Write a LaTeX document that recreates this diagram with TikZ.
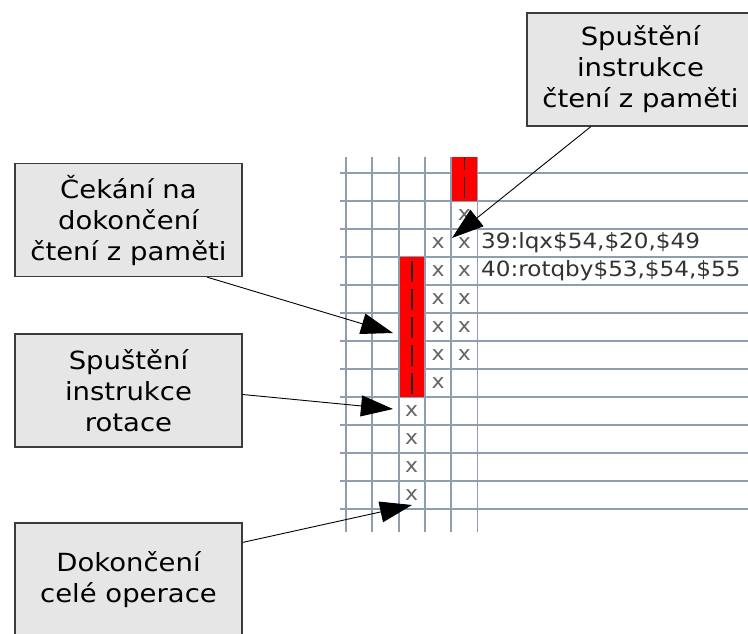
\documentclass[tikz,border=0pt]{standalone}
\usepackage{fontspec}
\setmainfont[FakeStretch=1.1]{DejaVu Sans}
\usepackage{tikz}
\usetikzlibrary{arrows.meta}
\usetikzlibrary{positioning}

\definecolor{gridgray}{RGB}{143,157,175}
\definecolor{notefill}{RGB}{230,230,230}
\definecolor{noteline}{RGB}{60,60,60}

\tikzset{
  notebox/.style={draw=noteline,line width=1.3pt,fill=notefill,
    minimum width=227pt,minimum height=113pt,inner sep=0pt,align=center,
    font=\fontsize{25}{31}\selectfont},
  gridline/.style={gridgray,line width=1.8pt},
  busycell/.style={fill=red,draw=none},
  busybar/.style={black!85,line width=1.6pt},
  tickx/.style={text=black!60,inner sep=0pt,font=\fontsize{20}{20}\selectfont},
  instr/.style={anchor=west,text=black!80,inner sep=0pt,font=\fontsize{21}{21}\selectfont},
  pointer/.style={-{Triangle[length=32pt,width=21pt]},line width=0.9pt},
}

\begin{document}
\begin{tikzpicture}[x=1pt,y=-1pt]
\useasboundingbox (0,0) rectangle (748,633);
\fill[white] (0,0) rectangle (748,633);

% pipeline grid
\foreach \i in {0,...,5}
  \draw[gridline] ({346+26.3*\i},157) -- ({346+26.3*\i},532);
\foreach \k in {0,...,12}
  \draw[gridline] (340,{173+28*\k}) -- (748,{173+28*\k});

% stalled cycles
\fill[busycell] ({346+26.3*4+0.9},157) rectangle ({346+26.3*5-0.9},173);
\draw[busybar] ({346+26.3*4+13.15},157) -- ({346+26.3*4+13.15},170);
\foreach \c/\r in {4/0,2/3,2/4,2/5,2/6,2/7}{
  \fill[busycell] ({346+26.3*\c+0.9},{173+28*\r}) rectangle ({346+26.3*(\c+1)-0.9},{173+28*(\r+1)});
  \draw[busybar] ({346+26.3*\c+13.15},{173+28*\r+4}) -- ({346+26.3*\c+13.15},{173+28*(\r+1)-3});
}

% issued cycles
\foreach \c/\r in {4/1,3/2,4/2,3/3,4/3,3/4,4/4,3/5,4/5,3/6,4/6,3/7,2/8,2/9,2/10,2/11}
  \node[tickx] (x\c-\r) at ({346+26.3*\c+13.15},{173+28*\r+14}) {x};

\node[instr] (lqx) at (481,243) {39:lqx\$54,\$20,\$49};
\node[instr] (rotqby) at (481,271) {40:rotqby\$53,\$54,\$55};

% callouts
\node[notebox] (readbox) at (640.5,69.5) {Spuštění\\instrukce\\čtení z paměti};
\node[notebox] (waitbox) at (128.5,220) {Čekání na\\dokončení\\čtení z paměti};
\node[notebox] (rotbox) at (128.5,390.5) {Spuštění\\instrukce\\rotace};
\node[notebox] (donebox) at (128.5,579.5) {Dokončení\\celé operace};

\coordinate (readtip) at (452,238);
\coordinate (waittip) at (393,333);
\coordinate (rottip) at (393,409);
\coordinate (donetip) at (412,505);

\draw[pointer] (readbox.229.4) -- (readtip);
\draw[pointer] (waitbox.-36.7) -- (waittip);
\draw[pointer] (rotbox.-2.8) -- (rottip);
\draw[pointer] (donebox.18.7) -- (donetip);
\end{tikzpicture}
\end{document}
